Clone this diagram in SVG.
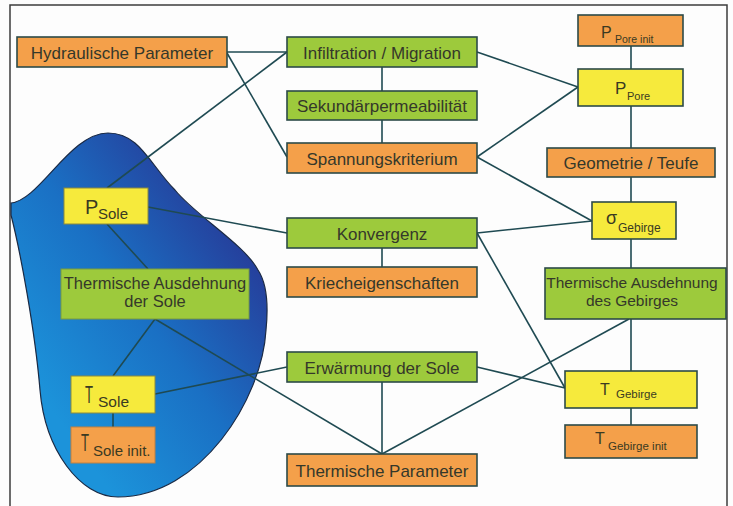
<svg xmlns="http://www.w3.org/2000/svg" width="733" height="506" viewBox="0 0 733 506">
<defs>
<linearGradient id="blobGrad" gradientUnits="userSpaceOnUse" x1="30" y1="380" x2="265" y2="210">
<stop offset="0" stop-color="#1c93da"/>
<stop offset="0.45" stop-color="#1a70c4"/>
<stop offset="1" stop-color="#29308f"/>
</linearGradient>
<style>
.frame{fill:none;stroke:#3c3c3c;stroke-width:1.5}
.blob{fill:url(#blobGrad);stroke:#1b2a44;stroke-width:1.2}
.c{stroke:#1f4a52;stroke-width:1.6;fill:none}
.or{fill:#f4a04a;stroke:#2c4a48;stroke-width:1.6}
.gr{fill:#9dca3c;stroke:#2c4a48;stroke-width:1.6}
.ye{fill:#f6ea3c;stroke:#8a8a40;stroke-width:1}
.ye2{fill:#f6ea3c;stroke:#2c4a48;stroke-width:1.6}
.t{font-family:"Liberation Sans",Arial,sans-serif;font-size:17px;fill:#35382a;text-anchor:middle}
.s{font-family:"Liberation Sans",Arial,sans-serif;fill:#3a3a22}
</style>
</defs>
<rect x="0" y="0" width="733" height="506" fill="#fdfdfd"/>
<path class="frame" d="M10,512 V5 H727 V512"/>
<path class="blob" d="M11,203 C40,200 70,133 108,133 C140,133 150,165 175,190 C195,215 245,245 258,270 C268,285 268,310 266,330 C262,400 200,497 118,497 C80,497 45,450 40,390 C35,330 20,250 11,215 Z"/>
<g id="connectors">
<line class="c" x1="227" y1="52" x2="287" y2="52"/>
<line class="c" x1="227" y1="53" x2="287" y2="157"/>
<line class="c" x1="107" y1="188" x2="287" y2="52"/>
<line class="c" x1="382" y1="67" x2="382" y2="91"/>
<line class="c" x1="382" y1="120" x2="382" y2="143"/>
<line class="c" x1="477" y1="52" x2="578" y2="87"/>
<line class="c" x1="477" y1="157" x2="578" y2="87"/>
<line class="c" x1="477" y1="157" x2="592" y2="221"/>
<line class="c" x1="631" y1="46" x2="631" y2="69"/>
<line class="c" x1="631" y1="106" x2="631" y2="148"/>
<line class="c" x1="631" y1="177" x2="631" y2="202"/>
<line class="c" x1="477" y1="233" x2="592" y2="221"/>
<line class="c" x1="477" y1="233" x2="565" y2="388"/>
<line class="c" x1="382" y1="248" x2="382" y2="267"/>
<line class="c" x1="631" y1="239" x2="631" y2="268"/>
<line class="c" x1="631" y1="319" x2="631" y2="371"/>
<line class="c" x1="631" y1="408" x2="631" y2="425"/>
<line class="c" x1="477" y1="367" x2="565" y2="388"/>
<line class="c" x1="629" y1="319" x2="382" y2="454"/>
<line class="c" x1="382" y1="382" x2="382" y2="454"/>
<line class="c" x1="155" y1="319" x2="382" y2="454"/>
<line class="c" x1="155" y1="394" x2="287" y2="367"/>
<line class="c" x1="155" y1="319" x2="113" y2="376"/>
<line class="c" x1="113" y1="413" x2="113" y2="427"/>
<line class="c" x1="107" y1="224" x2="148" y2="269"/>
<line class="c" x1="148" y1="207" x2="287" y2="233"/>
</g>
<g id="n-hydraulische"><rect class="or" x="17" y="37" width="210" height="30"/><text class="t" x="122" y="59">Hydraulische Parameter</text></g>
<g id="n-infiltration"><rect class="gr" x="287" y="37" width="190" height="30"/><text class="t" x="382" y="59">Infiltration / Migration</text></g>
<g id="n-sekundaer"><rect class="gr" x="287" y="91" width="190" height="29"/><text class="t" x="382" y="112">Sekundärpermeabilität</text></g>
<g id="n-spannung"><rect class="or" x="287" y="143" width="190" height="30"/><text class="t" x="382" y="165">Spannungskriterium</text></g>
<g id="n-konvergenz"><rect class="gr" x="287" y="218" width="190" height="30"/><text class="t" x="382" y="240">Konvergenz</text></g>
<g id="n-kriech"><rect class="or" x="287" y="267" width="190" height="30"/><text class="t" x="382" y="289">Kriecheigenschaften</text></g>
<g id="n-erwaermung"><rect class="gr" x="287" y="352" width="190" height="30"/><text class="t" x="382" y="374">Erwärmung der Sole</text></g>
<g id="n-thermparam"><rect class="or" x="287" y="454" width="190" height="32"/><text class="t" x="382" y="477">Thermische Parameter</text></g>
<g id="n-pporeinit"><rect class="or" x="578" y="15" width="105" height="31"/><text class="s"><tspan x="601" y="38" font-size="16">P</tspan><tspan x="615" y="43" font-size="10.5">Pore init</tspan></text></g>
<g id="n-ppore"><rect class="ye2" x="578" y="69" width="105" height="37"/><text class="s"><tspan x="615" y="94" font-size="17">P</tspan><tspan x="627" y="100" font-size="11">Pore</tspan></text></g>
<g id="n-geometrie"><rect class="or" x="547" y="148" width="168" height="29"/><text class="t" x="631" y="169">Geometrie / Teufe</text></g>
<g id="n-sigma"><rect class="ye2" x="592" y="202" width="84" height="37"/><text class="s"><tspan x="606" y="224" font-size="18">σ</tspan><tspan x="618" y="232" font-size="12">Gebirge</tspan></text></g>
<g id="n-thermgeb"><rect class="gr" x="545" y="268" width="181" height="51"/><text class="t" style="font-size:15.5px"><tspan x="632" y="288">Thermische Ausdehnung</tspan><tspan x="632" y="306">des Gebirges</tspan></text></g>
<g id="n-tgebirge"><rect class="ye2" x="565" y="371" width="132" height="37"/><text class="s"><tspan x="600" y="394.5" font-size="16">T</tspan><tspan x="616" y="398" font-size="11.5">Gebirge</tspan></text></g>
<g id="n-tgebirgeinit"><rect class="or" x="565" y="425" width="132" height="33"/><text class="s"><tspan x="595" y="443.5" font-size="16">T</tspan><tspan x="608" y="450" font-size="11.5">Gebirge init</tspan></text></g>
<g id="n-psole"><rect class="ye" x="64" y="188" width="84" height="36"/><text class="s"><tspan x="85" y="214" font-size="20">P</tspan><tspan x="98" y="219" font-size="15">Sole</tspan></text></g>
<g id="n-thermsole"><rect class="gr" x="61" y="269" width="188" height="50" style="stroke:#7a9a40;stroke-width:1"/><text class="t" style="font-size:16.5px"><tspan x="155" y="289">Thermische Ausdehnung</tspan><tspan x="155" y="307">der Sole</tspan></text></g>
<g id="n-tsole"><rect class="ye" x="71" y="376" width="84" height="37"/><text class="s"><tspan x="85" y="403" font-size="24" textLength="8" lengthAdjust="spacingAndGlyphs">T</tspan><tspan x="98" y="407" font-size="15.5">Sole</tspan></text></g>
<g id="n-tsoleinit"><rect class="or" x="71" y="427" width="84" height="36" style="stroke:#c08040;stroke-width:1"/><text class="s"><tspan x="81" y="451" font-size="23" textLength="8" lengthAdjust="spacingAndGlyphs">T</tspan><tspan x="93" y="456" font-size="15">Sole init.</tspan></text></g>
</svg>
